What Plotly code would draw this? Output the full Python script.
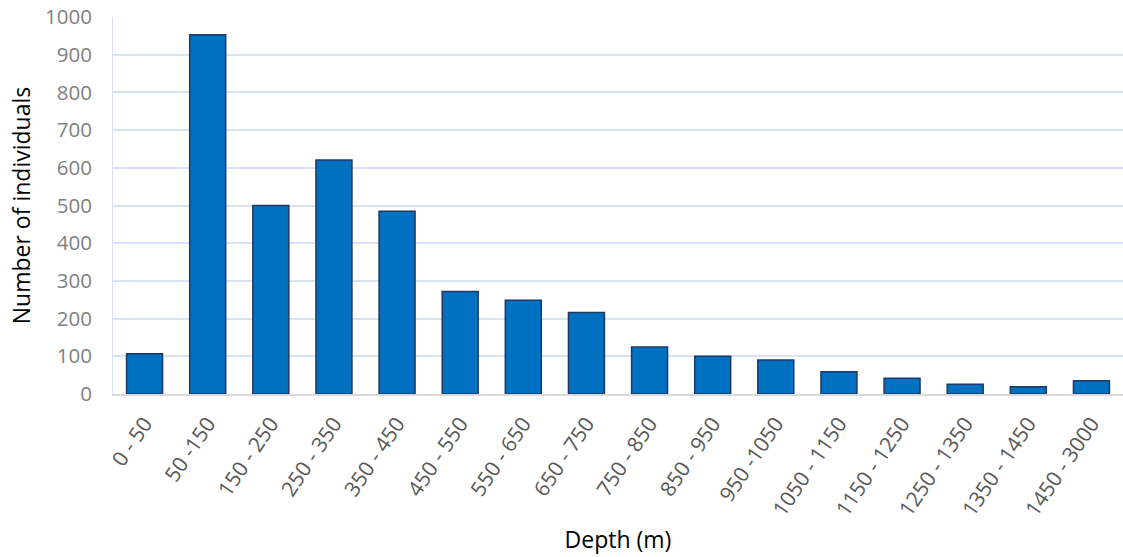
import plotly.graph_objects as go

depth_ranges = ["0 - 50", "50 -150", "150 - 250", "250 - 350", "350 - 450", "450 - 550",
                "550 - 650", "650 - 750", "750 - 850", "850 - 950", "950 -1050",
                "1050 - 1150", "1150 - 1250", "1250 - 1350", "1350 - 1450", "1450 - 3000"]
individuals = [107, 953, 500, 621, 485, 272, 249, 216, 125, 100, 90, 59, 42, 26, 19, 35]
y_ticks = list(range(0, 1001, 100))

fig = go.Figure(go.Bar(
    x=depth_ranges, y=individuals,
    marker=dict(color="#0070C0", line=dict(color="#203864", width=1.5)),
    width=0.57,
))

fig.update_layout(
    width=1123, height=557,
    margin=dict(l=113, r=0, t=17, b=163),
    paper_bgcolor="white", plot_bgcolor="white",
    font=dict(family="Open Sans, sans-serif"),
    showlegend=False,
    xaxis=dict(
        automargin=False,
        tickangle=-56, tickfont=dict(size=21, color="#595959"),
        showline=True, linecolor="#D9D9D9", linewidth=2,
        showgrid=False, ticks="", ticklabelstandoff=7,
        ticklabeloverflow="allow",
        title=dict(text="Depth (m)", font=dict(size=23, color="black"), standoff=12),
    ),
    yaxis=dict(
        automargin=False,
        range=[0, 1000], tickvals=y_ticks,
        tickfont=dict(size=20.5, color="#808080"),
        showgrid=True, gridcolor="#D9E1F2", gridwidth=2,
        showline=True, linecolor="#D9E1F2", linewidth=1,
        zeroline=False, ticks="", ticklabelstandoff=16,
        ticklabeloverflow="allow",
        title=dict(text="Number of individuals", font=dict(size=23, color="black"), standoff=7),
    ),
)

fig.write_html("out.html", config={"displayModeBar": False},
               post_script="document.body.style.margin='0';")
